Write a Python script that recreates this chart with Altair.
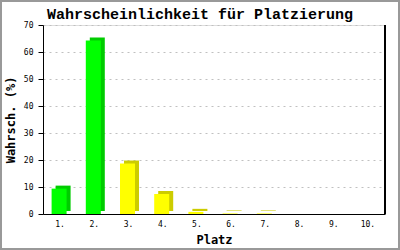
import altair as alt
import pandas as pd

title_text = "Wahrscheinlichkeit für Platzierung"
places = ["1.", "2.", "3.", "4.", "5.", "6.", "7.", "8.", "9.", "10."]
probs = [9.4, 64.3, 18.7, 7.4, 0.8, 0.2, 0.2, 0.0, 0.0, 0.0]
rank = list(range(1, 11))

df = pd.DataFrame({"place": places, "prob": probs, "rank": rank})

W, H = 342, 189
FONT = "DejaVu Sans Mono"

xenc = alt.X("place:N", sort=places, title="Platz",
             scale=alt.Scale(domain=places, paddingInner=0.0, paddingOuter=0.0),
             axis=alt.Axis(labelAngle=0, ticks=False, domainColor="black",
                           labelFont=FONT, labelFontSize=8, labelColor="black",
                           labelPadding=6, titleFont=FONT, titleFontSize=12,
                           titleFontWeight="bold", titlePadding=6, titleColor="black"))
yenc = alt.Y("prob:Q", title="Wahrsch. (%)",
             scale=alt.Scale(domain=[0, 70], nice=False),
             axis=alt.Axis(values=list(range(0, 71, 10)), domainColor="black",
                           tickColor="black", tickSize=5, labelFont=FONT,
                           labelFontSize=8, labelColor="black", labelPadding=5,
                           grid=True, gridColor="#c0c0c0", gridDash=[2, 4],
                           titleFont=FONT, titleFontSize=12, titleFontWeight="bold",
                           titlePadding=6, titleColor="black"))

base = alt.Chart(df)

back = base.transform_filter("datum.prob > 0").mark_bar(size=15, xOffset=3, yOffset=-3).encode(
    x=xenc, y=yenc,
    color=alt.condition("datum.rank <= 2", alt.value("#00cc00"), alt.value("#cccc00")),
)
front = base.transform_filter("datum.prob > 0").mark_bar(size=15, xOffset=-1).encode(
    x=xenc, y=yenc,
    color=alt.condition("datum.rank <= 2", alt.value("#00ff00"), alt.value("#ffff00")),
)
right_line = base.mark_rule(color="black", strokeWidth=1).encode(
    x=alt.value(W), y=alt.value(0), y2=alt.value(H)
)
frame = base.mark_rect(fill=None, stroke="#999999", strokeWidth=2).encode(
    x=alt.value(-42), x2=alt.value(356), y=alt.value(-24), y2=alt.value(224)
)
title = alt.Chart(pd.DataFrame({"t": [title_text]})).mark_text(
    font="Liberation Mono", fontSize=15, fontWeight="bold", color="black",
    align="center", baseline="alphabetic"
).encode(x=alt.value(W / 2 - 14), y=alt.value(-6), text="t:N")

chart = alt.layer(back, front, right_line, frame, title).properties(
    width=W, height=H,
    autosize=alt.AutoSizeParams(type="none"),
    padding={"left": 43, "top": 25, "right": 15, "bottom": 36},
).configure_view(stroke=None).configure(background="white")

chart.save("out.html", embed_options={"renderer": "svg", "actions": False})
